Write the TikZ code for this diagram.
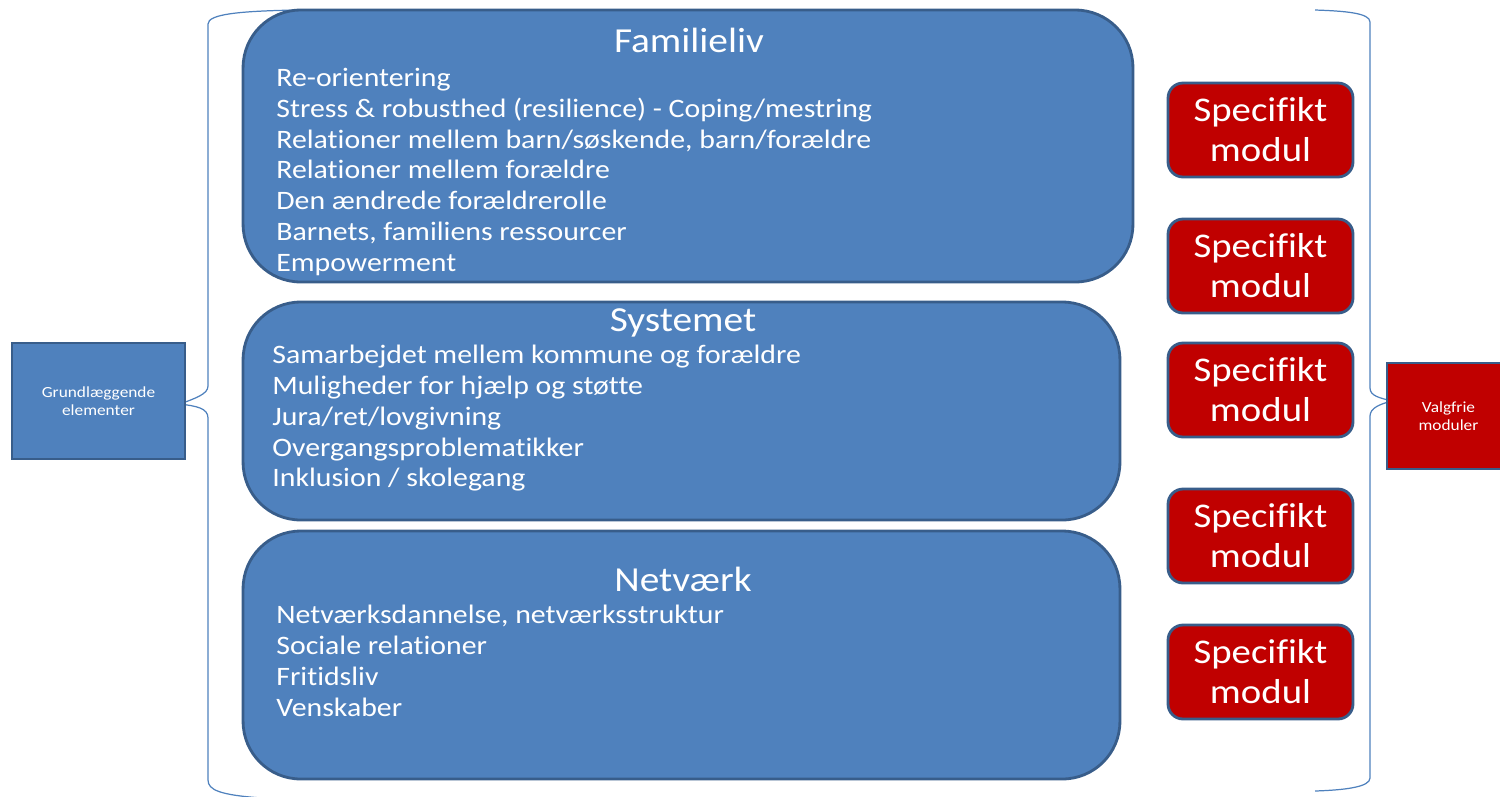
\documentclass[tikz,border=0pt]{standalone}
\usepackage{fontspec}
\setmainfont{Carlito}[FakeStretch=1.12, Ligatures=NoCommon]
\usepackage{tikz}

\definecolor{boxblue}{HTML}{4F81BD}
\definecolor{boxline}{HTML}{385D8A}
\definecolor{modred}{HTML}{C00000}

\tikzset{
	topic/.style={draw=boxline, fill=boxblue, line width=1.6pt, rounded corners=1.15cm},
	modbox/.style={draw=boxline, fill=modred, line width=1.6pt, rounded corners=0.3cm, minimum width=3.7cm, minimum height=1.88cm, text=white, align=center, font=\fontsize{19.7}{22.7}\selectfont},
	tag/.style={draw=boxline, line width=1.6pt, text=white, align=center, font=\fontsize{8.8}{10.4}\selectfont},
	heading/.style={text=white, anchor=base, inner sep=0pt, font=\fontsize{20}{24}\selectfont},
	points/.style={text=white, align=left, anchor=north west, inner sep=0pt, font=\fontsize{15.15}{17.5}\selectfont},
	brace/.style={draw=boxblue, line width=0.7pt}
}

\begin{document}
\begin{tikzpicture}[x=0.02cm, y=-0.02cm]
				\useasboundingbox (0,0) rectangle (1500,796);
				
				% Braces
				\coordinate (lbtop) at (298,10);
				\coordinate (lbtip) at (180,404);
				\coordinate (lbend) at (262,798);
				\coordinate (rbtop) at (1315,10);
				\coordinate (rbtip) at (1392,401);
				\coordinate (rbend) at (1315,791);
				\draw[brace] (lbtop) .. controls (240,11) and (208,14) .. (208,24) -- (208,386) .. controls (208,394) and (196,398) .. (lbtip) .. controls (196,406) and (208,408) .. (208,418) -- (208,780) .. controls (208,790) and (220,795) .. (lbend);
				\draw[brace] (rbtop) .. controls (1345,11) and (1370,13) .. (1370,22) -- (1370,388) .. controls (1370,396) and (1380,398) .. (rbtip) .. controls (1380,404) and (1370,408) .. (1370,416) -- (1370,778) .. controls (1370,787) and (1345,790) .. (rbend);
				
				% Topics
				\node (familieliv) [topic, minimum width=17.8cm, minimum height=5.44cm] at (688,146) {};
				\node (systemet) [topic, minimum width=17.54cm, minimum height=4.36cm] at (681.5,411) {};
				\node (netvaerk) [topic, minimum width=17.54cm, minimum height=4.96cm] at (681.5,655) {};
				
				\node (familieliv-title) [heading] at (689,52) {Familieliv};
				\node (systemet-title) [heading] at (683,331) {Systemet};
				\node (netvaerk-title) [heading] at (683,591) {Netværk};
				
				\node (familieliv-list) [points] at (276,68) {Re-orientering\\Stress \& robusthed (resilience) - Coping/mestring\\Relationer mellem barn/søskende, barn/forældre\\Relationer mellem forældre\\Den ændrede forældrerolle\\Barnets, familiens ressourcer\\Empowerment};
				\node (systemet-list) [points] at (272,345) {Samarbejdet mellem kommune og forældre\\Muligheder for hjælp og støtte\\Jura/ret/lovgivning\\Overgangsproblematikker\\Inklusion / skolegang};
				\node (netvaerk-list) [points] at (276,605) {Netværksdannelse, netværksstruktur\\Sociale relationer\\Fritidsliv\\Venskaber};
				
				% Modules
				\node (modul1) [modbox] at (1260.5,130) {Specifikt\\modul};
				\node (modul2) [modbox] at (1260.5,266) {Specifikt\\modul};
				\node (modul3) [modbox] at (1260.5,390) {Specifikt\\modul};
				\node (modul4) [modbox] at (1260.5,536) {Specifikt\\modul};
				\node (modul5) [modbox] at (1260.5,672) {Specifikt\\modul};
				
				% Side labels
				\node (grund) [tag, fill=boxblue, minimum width=3.46cm, minimum height=2.32cm] at (98.5,401) {Grundlæggende\\elementer};
				\node (valgfrie) [tag, fill=modred, minimum width=2.46cm, minimum height=2.12cm] at (1448.5,416) {Valgfrie\\moduler};
				
			\end{tikzpicture}
\end{document}
